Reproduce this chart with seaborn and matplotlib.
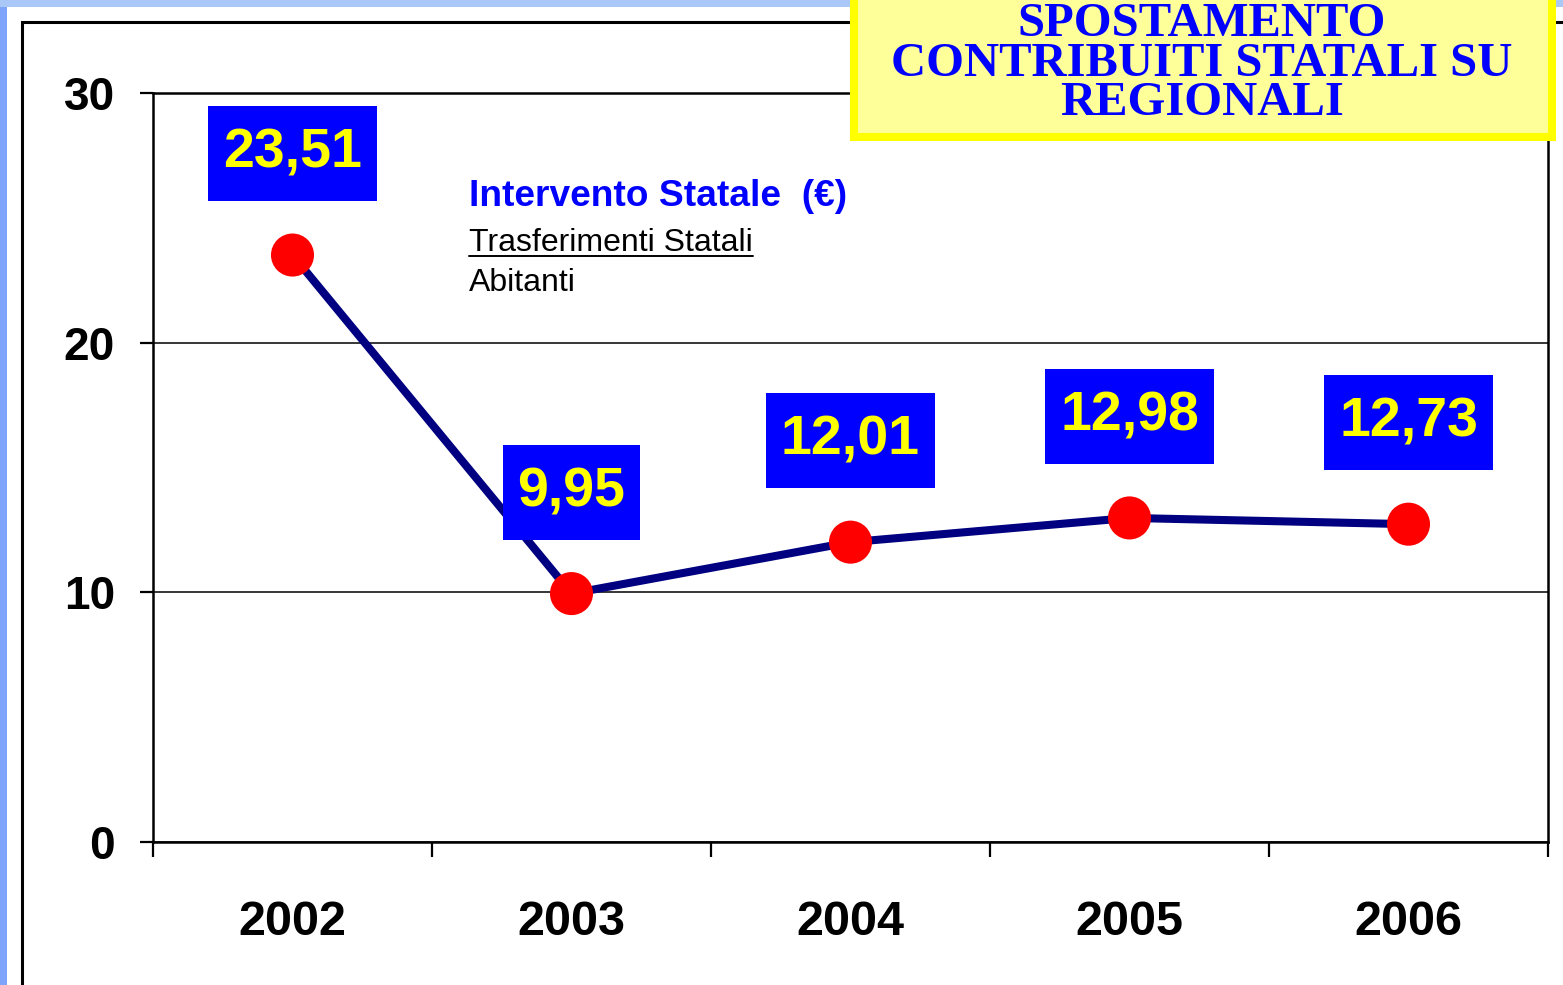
import matplotlib
matplotlib.use("Agg")
import matplotlib.pyplot as plt
from matplotlib.patches import Rectangle
from matplotlib.lines import Line2D
from matplotlib.path import Path
from matplotlib.transforms import IdentityTransform
import seaborn as sns
import pandas as pd

# dati del grafico
anni = ["2002", "2003", "2004", "2005", "2006"]
intervento = [23.51, 9.95, 12.01, 12.98, 12.73]
etichette = ["23,51", "9,95", "12,01", "12,98", "12,73"]
y_ticks = [0, 10, 20, 30]

titolo = ["SPOSTAMENTO", "CONTRIBUITI STATALI SU", "REGIONALI"]
legenda_titolo = "Intervento Statale  (€)"
legenda_num = "Trasferimenti Statali"
legenda_den = "Abitanti"

W, H = 1563, 985


def fx(px):
    return px / W


def fy(py):
    return 1 - py / H


def box_etichetta(x0, y0, width, height, mutation_size):
    """Riquadro rettangolare con margine verticale piu' ampio di quello orizzontale."""
    px, py = 0.27 * mutation_size, 0.39 * mutation_size
    x0, y0 = x0 - px, y0 - py
    x1, y1 = x0 + width + 2 * px, y0 + height + 2 * py
    return Path([(x0, y0), (x1, y0), (x1, y1), (x0, y1), (x0, y0)], closed=True)


sns.set_theme(style="white")
plt.rcParams["font.family"] = ["Liberation Sans", "DejaVu Sans"]

fig = plt.figure(figsize=(W / 100, H / 100), dpi=100, facecolor="white")

# cornice di sfondo (stile slide)
fig.add_artist(Rectangle((0, 0), fx(7), 1, transform=fig.transFigure,
                         facecolor="#7ea4fb", edgecolor="none", zorder=0))
fig.add_artist(Rectangle((0, fy(7)), 1, 7 / H, transform=fig.transFigure,
                         facecolor="#a9c8f7", edgecolor="none", zorder=0))
fig.add_artist(Rectangle((fx(22), -0.2), 1.2, fy(22) + 0.2, transform=fig.transFigure,
                         facecolor="none", edgecolor="black", linewidth=2.2, zorder=1))

ax = fig.add_axes([fx(153), fy(842), fx(1548) - fx(153), fy(93) - fy(842)])
ax.set_facecolor("white")

df = pd.DataFrame({"pos": range(len(anni)), "valore": intervento})
sns.lineplot(data=df, x="pos", y="valore", color="#000080", linewidth=5.8, ax=ax, zorder=3)
sns.scatterplot(data=df, x="pos", y="valore", color="#ff0000", s=31 ** 2,
                edgecolor="none", ax=ax, zorder=4)

ax.set_xlim(-0.5, len(anni) - 0.5)
ax.set_ylim(0, 30)
ax.set_xlabel("")
ax.set_ylabel("")

ax.set_xticks(range(len(anni)))
ax.set_xticklabels(anni)
ax.set_xticks([i - 0.5 for i in range(len(anni) + 1)], minor=True)
ax.set_yticks(y_ticks)
ax.tick_params(axis="x", which="major", length=0, pad=42, labelsize=35, bottom=True)
ax.tick_params(axis="x", which="minor", length=11, width=1.6, direction="out",
               color="black", bottom=True)
ax.tick_params(axis="y", length=9.5, width=1.6, pad=18, labelsize=33, direction="out",
               color="black", left=True)
for lab in ax.get_xticklabels() + ax.get_yticklabels():
    lab.set_fontweight("bold")
    lab.set_color("black")

ax.grid(axis="y", color="black", linewidth=1.1)
ax.grid(axis="x", visible=False)
for sp in ax.spines.values():
    sp.set_visible(True)
    sp.set_color("black")
    sp.set_linewidth(1.8)

# etichette dei valori
for i, (v, lab) in enumerate(zip(intervento, etichette)):
    ax.annotate(lab, (i, v), xytext=(0, 73), textcoords="offset points",
                ha="center", va="center", fontsize=40, fontweight="bold", color="#ffff00",
                bbox=dict(boxstyle=box_etichetta, fc="#0000ff", ec="none"), zorder=5)

# formula della legenda
fig.text(fx(469), fy(197), legenda_titolo, color="#0000ff", fontsize=26.7,
         fontweight="bold", ha="left", va="center")
t_num = fig.text(fx(469), fy(243), legenda_num, color="black", fontsize=23,
                 ha="left", va="center")
fig.text(fx(469), fy(283), legenda_den, color="black", fontsize=23, ha="left", va="center")

# riquadro del titolo
fig.add_artist(Rectangle((fx(854), fy(137)), fx(1552) - fx(854), 0.3,
                         transform=fig.transFigure, facecolor="#ffff99",
                         edgecolor="#ffff00", linewidth=5.8, zorder=10))
fig.text(fx(1202), fy(115), "\n".join(titolo), color="#0000ff", fontsize=35,
         fontweight="bold", family=["Liberation Serif", "DejaVu Serif"],
         ha="center", va="baseline", multialignment="center", linespacing=0.865, zorder=11)

fig.canvas.draw()
bb = t_num.get_window_extent()
fig.add_artist(Line2D([bb.x0, bb.x1], [bb.y0 + 2, bb.y0 + 2], transform=IdentityTransform(),
                      color="black", linewidth=1.4))

fig.savefig("out.png", dpi=100)
